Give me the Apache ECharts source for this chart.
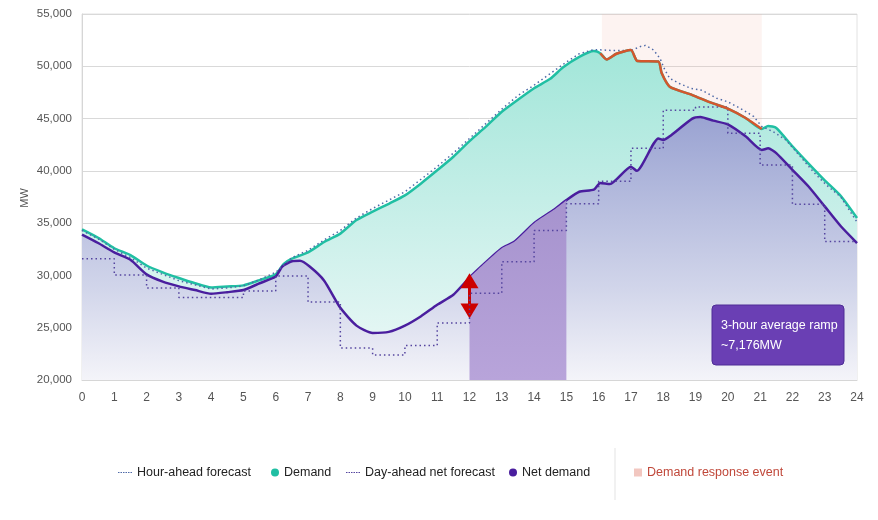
<!DOCTYPE html>
<html>
<head>
<meta charset="utf-8">
<script src="https://cdn.jsdelivr.net/npm/echarts@6/dist/echarts.min.js"></script>
<style>
  html, body { margin: 0; padding: 0; background: #fff; }
  #chart { width: 878px; height: 520px; }
</style>
</head>
<body>
<div id="chart"></div>
<script>
const FONT = 'Liberation Sans, Arial, sans-serif';

// demand (MW) by hour of day
const demandHours = [0, 0.5, 1, 1.5, 2, 2.5, 3, 3.5, 4, 4.5, 5, 5.5, 6, 6.25, 6.5, 7, 7.5, 8, 8.5, 9, 9.5, 10, 10.5, 11, 11.5, 12, 12.5, 13, 13.5, 14, 14.5, 14.9, 15.4, 15.85, 16.05, 16.25, 16.55, 17, 17.2, 17.85, 17.95, 18.2, 18.9, 19.5, 20, 20.55, 21.05, 21.25, 21.5, 22, 22.5, 23, 23.5, 24];
const demandMW = [34400, 33600, 32600, 31950, 30950, 30300, 29750, 29250, 28850, 28950, 29050, 29550, 30100, 31100, 31600, 32200, 33200, 34000, 35300, 36100, 36850, 37650, 38800, 40050, 41350, 42850, 44200, 45650, 46800, 47900, 48800, 49900, 50900, 51450, 51250, 50650, 51200, 51550, 50500, 50450, 49350, 48050, 47250, 46500, 45950, 45050, 44000, 44300, 44100, 42350, 40700, 39100, 37600, 35500];

// net demand (MW)
const netHours = [0, 0.5, 1, 1.5, 2, 2.5, 3, 3.5, 4, 4.5, 5, 5.5, 6, 6.2, 6.5, 6.75, 7.05, 7.5, 8, 8.5, 9, 9.5, 10, 10.5, 11, 11.5, 12, 12.5, 13, 13.4, 14, 14.6, 15, 15.4, 15.85, 16.05, 16.35, 17, 17.18, 17.85, 18, 18.2, 18.9, 19.15, 19.55, 20, 20.55, 21.05, 21.25, 21.5, 22, 22.5, 23, 23.5, 24];
const netMW = [33900, 33100, 32200, 31500, 30100, 29400, 28950, 28600, 28250, 28400, 28600, 29250, 29900, 30850, 31350, 31400, 30850, 29500, 26900, 25200, 24500, 24600, 25200, 26100, 27200, 28150, 29800, 31250, 32600, 33250, 35000, 36250, 37200, 38000, 38200, 38850, 38750, 40400, 40000, 43100, 42950, 43300, 45000, 45150, 44800, 44450, 43300, 42000, 42150, 41700, 40100, 38500, 36600, 34700, 33100];

// hour-ahead forecast (MW)
const hourAheadHours = [0, 0.5, 1, 1.5, 2, 2.5, 3, 3.5, 4, 4.5, 5, 5.5, 6, 6.5, 7, 7.5, 8, 8.5, 9, 9.5, 10, 10.5, 11, 11.5, 12, 12.5, 13, 13.5, 14, 14.5, 15, 15.4, 15.85, 16.5, 17, 17.3, 17.45, 17.7, 17.9, 18.05, 18.2, 18.5, 18.85, 19.2, 19.65, 20, 20.4, 20.8, 21.05, 21.4, 21.8, 22.25, 22.65, 23.05, 23.5, 24];
const hourAheadMW = [34300, 33500, 32500, 31700, 30700, 30100, 29500, 29100, 28700, 28800, 29000, 29600, 30300, 31700, 32400, 33400, 34300, 35500, 36400, 37200, 38000, 39200, 40400, 41700, 43100, 44500, 45900, 47200, 48200, 49300, 50400, 51200, 51600, 51500, 51500, 51900, 52000, 51550, 50750, 49650, 48850, 48350, 47900, 47700, 46950, 46600, 45950, 45200, 44250, 43750, 42950, 41350, 39900, 38650, 37500, 35100];

// day-ahead net forecast, hourly blocks
const dayAheadHours = [0, 1, 2, 3, 4, 5, 6, 7, 8, 9, 10, 11, 12, 13, 14, 15, 16, 17, 18, 19, 20, 21, 22, 23, 24];
const dayAheadMW = [31600, 30050, 28800, 27900, 27900, 28500, 29950, 27450, 23050, 22400, 23300, 25450, 28300, 31300, 34300, 36850, 39000, 42150, 45800, 46100, 43600, 40550, 36800, 33250, 33250];

const drEvent = [16.1, 21.05];     // demand response window (hours)
const rampWindow = [12, 15];       // 3-hour ramp
const rampArrowMW = [29500, 26600];
const yTicks = { min: 20000, max: 55000, step: 5000 };

const pairs = (hs, vs) => hs.map((h, i) => [h, vs[i]]);
const demandData = pairs(demandHours, demandMW);
const netData = pairs(netHours, netMW);
const drData = demandData.filter(([h]) => h >= 16.05 && h <= drEvent[1]);
const rampData = netData.filter(([h]) => h >= rampWindow[0] && h <= rampWindow[1]);

const grad = (stops) => new echarts.graphic.LinearGradient(0, 0, 0, 1,
  stops.map(([offset, color]) => ({ offset, color })));

// dotted legend swatch
const DOTS = 'path://M0,0h3v2h-3z M5,0h3v2h-3z M10,0h3v2h-3z M15,0h3v2h-3z M20,0h3v2h-3z M25,0h3v2h-3z';

// one legend box per entry so the spacing can follow the original
const legendItem = (left, name, icon, width) => ({
  left, top: 461,
  itemWidth: width, itemHeight: 8,
  textStyle: { color: '#222', fontSize: 12.5 },
  data: [{ name, icon }],
});

const chart = echarts.init(document.getElementById('chart'), null, { renderer: 'canvas' });

chart.setOption({
  animation: false,
  textStyle: { fontFamily: FONT },
  grid: {
    left: 82, right: 21, top: 14, bottom: 140,
    show: true, borderColor: '#e2e2e2', borderWidth: 1,
  },
  xAxis: {
    type: 'value',
    min: 0, max: 24, interval: 1,
    axisLine: { show: true, lineStyle: { color: '#d6d6d6' } },
    axisTick: { show: false },
    splitLine: { show: false },
    axisLabel: { color: '#555', fontSize: 12, margin: 12 },
  },
  yAxis: {
    type: 'value',
    min: yTicks.min, max: yTicks.max, interval: yTicks.step,
    axisLine: { show: true, lineStyle: { color: '#d6d6d6' } },
    axisTick: { show: false },
    splitLine: { lineStyle: { color: '#d9d9d9' } },
    axisLabel: {
      color: '#555', fontSize: 11.5, margin: 10,
      formatter: (v) => v.toLocaleString('en-US'),
    },
  },
  legend: [
    legendItem(113, 'Hour-ahead forecast', DOTS, 14),
    legendItem(266, 'Demand', 'circle', 8),
    legendItem(341, 'Day-ahead net forecast', DOTS, 14),
    legendItem(504, 'Net demand', 'circle', 8),
    {
      left: 629, top: 461,
      itemWidth: 8, itemHeight: 8,
      textStyle: { color: '#c0483a', fontSize: 12.5 },
      data: [{ name: 'Demand response event', icon: 'rect', itemStyle: { color: '#f2c7c0' } }],
    },
  ],
  graphic: [
    {
      // y axis title
      type: 'text', x: 25, y: 198, rotation: Math.PI / 2,
      style: { text: 'MW', fill: '#555', fontSize: 11, fontFamily: FONT, align: 'center', verticalAlign: 'middle' },
    },
    {
      type: 'line', shape: { x1: 615, y1: 448, x2: 615, y2: 500 },
      style: { stroke: '#e3e3e3', lineWidth: 1 },
    },
    {
      type: 'rect', z: 100,
      shape: { x: 712, y: 305, width: 132, height: 60, r: 4 },
      style: { fill: '#6a3fb4', stroke: '#4e2d96', lineWidth: 1 },
    },
    {
      type: 'text', z: 101, x: 721, y: 319,
      style: { text: '3-hour average ramp', fill: '#fff', fontSize: 12.5, fontFamily: FONT },
    },
    {
      type: 'text', z: 101, x: 721, y: 339,
      style: { text: '~7,176MW', fill: '#fff', fontSize: 12.5, fontFamily: FONT },
    },
  ],
  series: [
    {
      name: 'Demand',
      type: 'line',
      z: 2,
      data: demandData,
      symbol: 'none',
      smooth: 0.2,
      lineStyle: { color: '#20bfa3', width: 2.5 },
      itemStyle: { color: '#20bfa3' },
      areaStyle: {
        opacity: 1,
        color: grad([[0, '#a2e6d9'], [0.45, '#c4eee7'], [1, '#eef9f8']]),
      },
    },
    {
      name: 'Net demand',
      type: 'line',
      z: 3,
      data: netData,
      symbol: 'none',
      smooth: 0.2,
      lineStyle: { color: '#4a1e9e', width: 2.5 },
      itemStyle: { color: '#4a1e9e' },
      areaStyle: {
        opacity: 1,
        color: grad([[0, '#9aa3d2'], [0.65, '#d1d5ea'], [1, '#f4f4f9']]),
      },
      markLine: {
        silent: true,
        symbol: ['triangle', 'triangle'],
        symbolSize: [18, 15],
        label: { show: false },
        lineStyle: { color: '#cc0000', width: 3, type: 'solid' },
        data: [[{ coord: [rampWindow[0], rampArrowMW[0]] }, { coord: [rampWindow[0], rampArrowMW[1]] }]],
      },
    },
    {
      name: 'ramp',
      type: 'line',
      z: 4,
      data: rampData,
      symbol: 'none',
      smooth: 0.2,
      lineStyle: { width: 0 },
      areaStyle: { opacity: 1, color: grad([[0, '#a693ce'], [1, '#b8a4da']]) },
      silent: true,
    },
    {
      name: 'Hour-ahead forecast',
      type: 'line',
      z: 5,
      data: pairs(hourAheadHours, hourAheadMW),
      symbol: 'none',
      lineStyle: { color: '#4f6aa8', width: 1.5, type: [1.5, 3] },
      itemStyle: { color: '#4f6aa8' },
    },
    {
      name: 'Day-ahead net forecast',
      type: 'line',
      z: 5,
      step: 'end',
      data: pairs(dayAheadHours, dayAheadMW),
      symbol: 'none',
      lineStyle: { color: '#54449f', width: 1.5, type: [1.5, 3] },
      itemStyle: { color: '#54449f' },
    },
    {
      name: 'Demand response event',
      type: 'line',
      z: 6,
      data: drData,
      symbol: 'none',
      smooth: 0.2,
      lineStyle: { color: '#d4562c', width: 2.5 },
      itemStyle: { color: '#d4562c' },
      markArea: {
        silent: true,
        itemStyle: { color: 'rgba(244,180,168,0.16)' },
        data: [[{ xAxis: drEvent[0] }, { xAxis: drEvent[1] }]],
      },
    },
  ],
});
</script>
</body>
</html>
